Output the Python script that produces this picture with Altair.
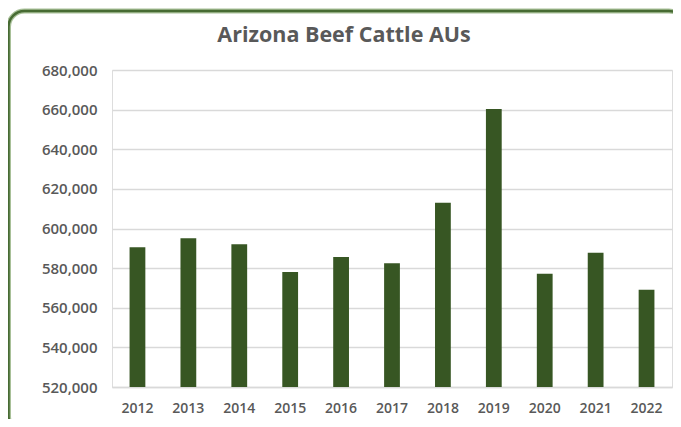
import altair as alt
import pandas as pd

years = ["2012", "2013", "2014", "2015", "2016", "2017", "2018", "2019", "2020", "2021", "2022"]
values = [590500, 595100, 592000, 578000, 585600, 582500, 613000, 660300, 577200, 587800, 569100]
y_ticks = [520000, 540000, 560000, 580000, 600000, 620000, 640000, 660000, 680000]

df = pd.DataFrame({"year": years, "value": values})

FONT = "Open Sans"
GRAY = "#595959"

bars = alt.Chart(df).mark_bar(color="#375623", clip=True).encode(
    x=alt.X("year:N", sort=years,
            scale=alt.Scale(paddingInner=0.69, paddingOuter=0.345),
            axis=alt.Axis(title=None, labelAngle=0, ticks=False, domain=True,
                          domainColor="#d9d9d9", domainWidth=1.5,
                          labelPadding=14, labelFont=FONT, labelFontSize=14,
                          labelFontWeight=600, labelColor=GRAY)),
    y=alt.Y("value:Q",
            scale=alt.Scale(domain=[520000, 680000], nice=False, zero=False),
            axis=alt.Axis(title=None, values=y_ticks, format=",.0f", ticks=False,
                          domain=False, gridColor="#d9d9d9", gridWidth=1.5,
                          labelPadding=15, labelFont=FONT, labelFontSize=15,
                          labelFontWeight=600, labelColor=GRAY)),
)

frame_df = pd.DataFrame({"k": [0]})
frame_glow = alt.Chart(frame_df).mark_rect(
    fill="transparent", stroke="#a8c098", strokeWidth=5, cornerRadius=16
).encode(x=alt.value(-103.5), x2=alt.value(573), y=alt.value(-59), y2=alt.value(362))
frame = alt.Chart(frame_df).mark_rect(
    fill="transparent", stroke="#476b33", strokeWidth=2.5, cornerRadius=16
).encode(x=alt.value(-103.5), x2=alt.value(573), y=alt.value(-59), y2=alt.value(362))

chart = alt.layer(bars, frame_glow, frame).properties(
    width=560, height=317,
    title=alt.TitleParams("Arizona Beef Cattle AUs", font=FONT, fontSize=21.5,
                          fontWeight="bold", color=GRAY, anchor="middle",
                          baseline="alphabetic", dx=-48, offset=-55),
    autosize=alt.AutoSizeParams(type="none"),
    padding={"left": 104, "top": 62, "right": 1, "bottom": 32},
).configure_view(stroke=None).configure(background="white")

chart.save("out.html", embed_options={"renderer": "svg", "actions": False})
